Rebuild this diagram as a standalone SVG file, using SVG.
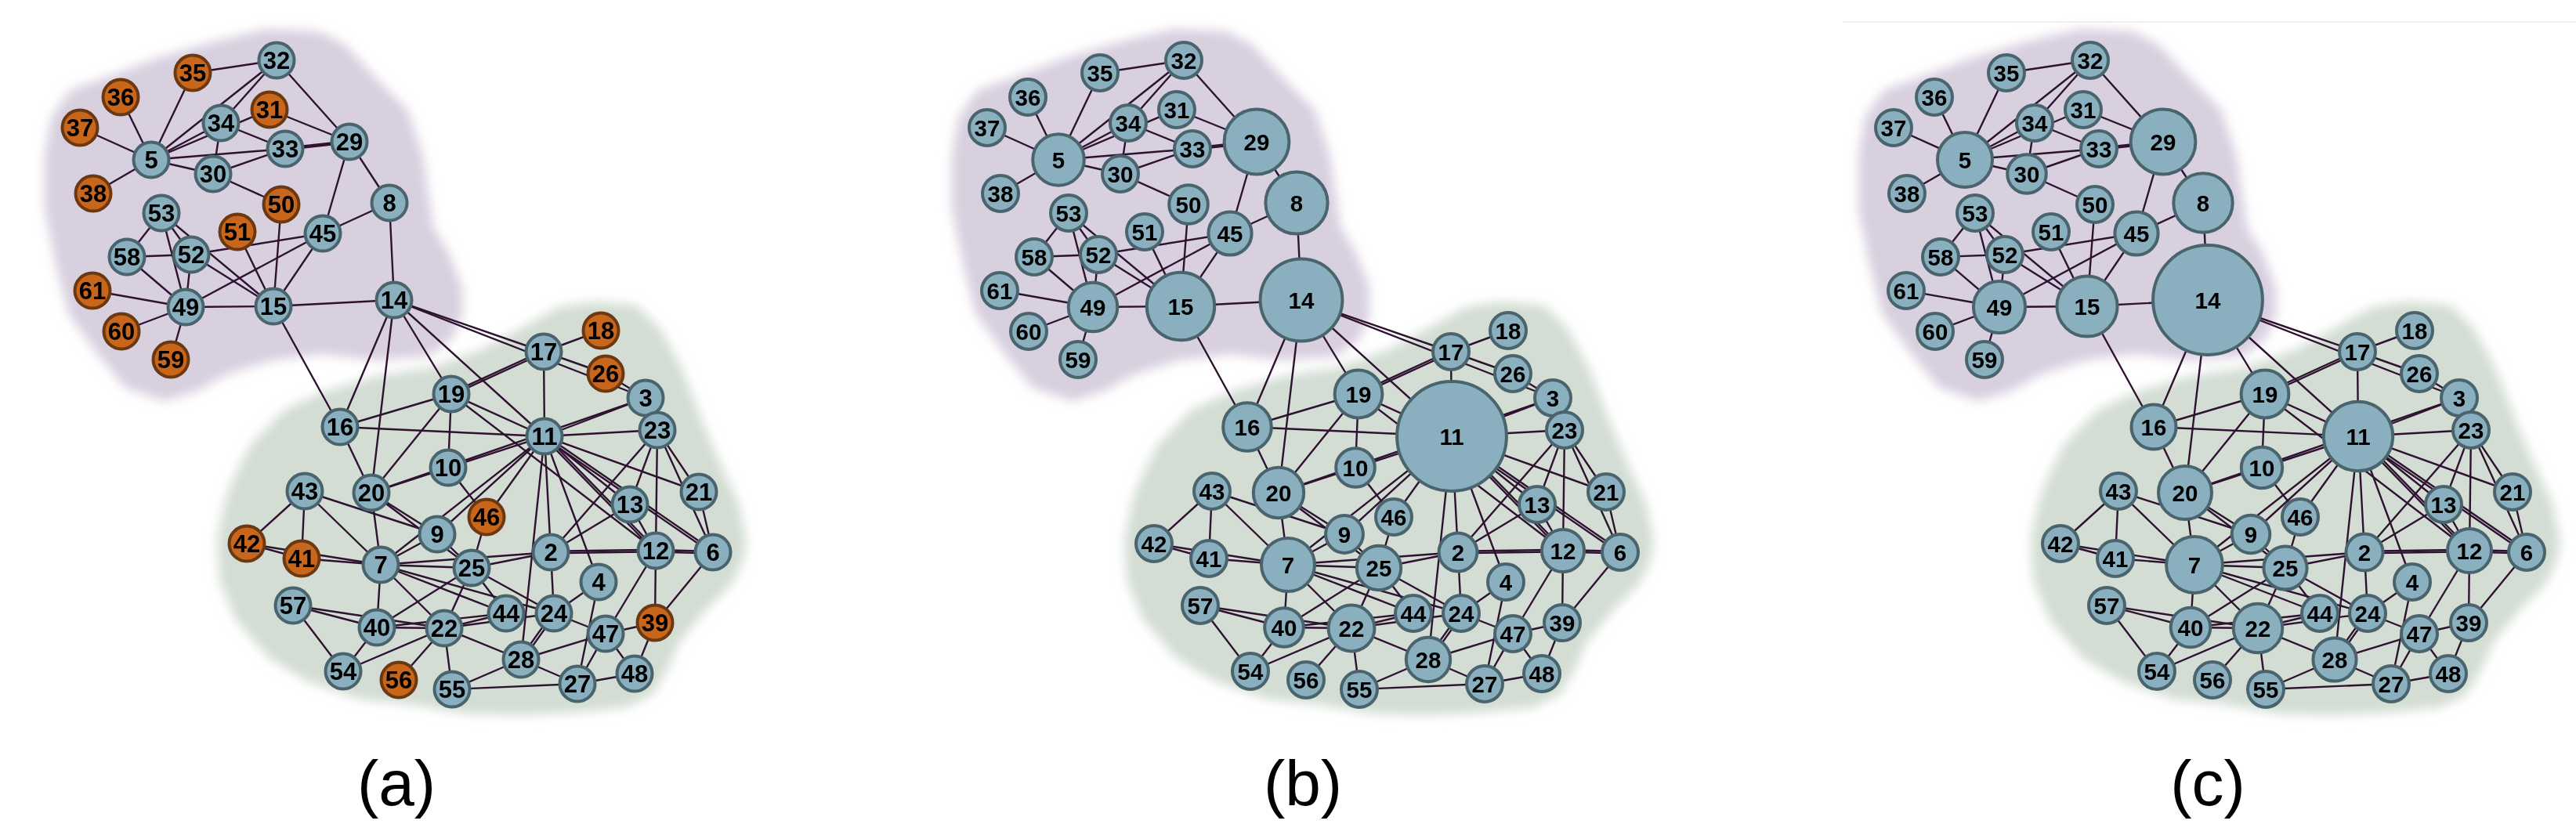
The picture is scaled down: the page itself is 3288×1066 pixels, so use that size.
<svg xmlns="http://www.w3.org/2000/svg" xmlns:xlink="http://www.w3.org/1999/xlink" width="3288" height="1066" viewBox="0 0 3288 1066">
<style>
.e line{stroke:#2e1230;stroke-width:2.4;stroke-linecap:round}
.nb{fill:#8ab0c0;stroke:#4a646e;stroke-width:4}
.no{fill:#c8661c;stroke:#6b3812;stroke-width:4}
.t{font-family:"Liberation Sans",Arial,sans-serif;font-weight:bold;font-size:31px;text-anchor:middle;fill:#000}
.pb .t,.pc .t{font-size:29.5px}
.lab{font-family:"Liberation Sans",Arial,sans-serif;font-size:82px;text-anchor:middle;fill:#000}
.bp{fill:#d8cfdf}
.bg{fill:#d3ddd3}
</style>
<defs>
<filter id="soft" x="-10%" y="-10%" width="120%" height="120%"><feGaussianBlur stdDeviation="7"/></filter>
<path id="blobP" d="M57,200 L65,150 L90,115 L140,97 L207,72 L273,53 L340,37 L407,40 L440,57 L490,110 L520,140 L540,200 L553,290 L573,323 L590,367 L590,403 L577,433 L547,455 L480,460 L413,452 L347,460 L290,478 L250,500 L210,512 L160,495 L123,450 L87,400 L70,333 L57,267 Z"/>
<path id="blobG" d="M287,640 L297,613 L320,567 L363,523 L413,500 L480,480 L547,470 L613,447 L663,420 L713,392 L760,385 L813,390 L843,420 L870,470 L900,547 L920,593 L943,643 L953,693 L947,720 L933,747 L900,780 L867,820 L853,853 L833,887 L800,903 L733,910 L667,913 L600,912 L527,900 L460,893 L393,870 L343,840 L300,790 L280,740 L277,690 Z"/>
</defs>
<rect width="3288" height="1066" fill="#fff"/>
<line x1="2352" y1="28" x2="3288" y2="28" stroke="#ececec" stroke-width="1.5"/>
<g id="blobs" filter="url(#soft)">
<use xlink:href="#blobP" class="bp"/><use xlink:href="#blobG" class="bg"/>
<use xlink:href="#blobP" class="bp" x="1158"/><use xlink:href="#blobG" class="bg" x="1158"/>
<use xlink:href="#blobP" class="bp" x="2315"/><use xlink:href="#blobG" class="bg" x="2315"/>
</g>
<g id="connectors-a" class="e">
<line x1="246" y1="93" x2="353" y2="77"/><line x1="246" y1="93" x2="193" y2="204"/><line x1="154" y1="124" x2="193" y2="204"/><line x1="102" y1="163" x2="193" y2="204"/><line x1="119" y1="247" x2="193" y2="204"/>
<line x1="193" y1="204" x2="353" y2="77"/><line x1="193" y1="204" x2="282" y2="157"/><line x1="193" y1="204" x2="344" y2="140"/><line x1="193" y1="204" x2="364" y2="190"/><line x1="193" y1="204" x2="272" y2="222"/>
<line x1="353" y1="77" x2="282" y2="157"/><line x1="353" y1="77" x2="446" y2="181"/><line x1="344" y1="140" x2="446" y2="181"/><line x1="282" y1="157" x2="364" y2="190"/><line x1="282" y1="157" x2="272" y2="222"/><line x1="272" y1="222" x2="364" y2="190"/>
<line x1="364" y1="189" x2="446" y2="180"/><line x1="364" y1="191" x2="446" y2="182"/>
<line x1="272" y1="222" x2="359" y2="261"/><line x1="446" y1="181" x2="412" y2="298"/><line x1="446" y1="181" x2="497" y2="259"/><line x1="497" y1="259" x2="412" y2="298"/><line x1="497" y1="259" x2="503" y2="383"/>
<line x1="206" y1="272" x2="162" y2="328"/><line x1="206" y1="272" x2="244" y2="325"/><line x1="206" y1="272" x2="349" y2="391"/><line x1="206" y1="272" x2="237" y2="392"/>
<line x1="162" y1="328" x2="244" y2="325"/><line x1="162" y1="328" x2="237" y2="392"/><line x1="244" y1="325" x2="237" y2="392"/><line x1="244" y1="325" x2="412" y2="298"/><line x1="244" y1="325" x2="349" y2="391"/>
<line x1="303" y1="296" x2="349" y2="391"/><line x1="359" y1="261" x2="349" y2="391"/><line x1="412" y1="298" x2="349" y2="391"/><line x1="412" y1="298" x2="237" y2="392"/>
<line x1="118" y1="371" x2="237" y2="392"/><line x1="155" y1="423" x2="237" y2="392"/><line x1="218" y1="459" x2="237" y2="392"/><line x1="237" y1="392" x2="349" y2="391"/><line x1="349" y1="391" x2="503" y2="383"/><line x1="349" y1="391" x2="434" y2="545"/>
<line x1="503" y1="383" x2="434" y2="545"/><line x1="503" y1="383" x2="474" y2="629"/><line x1="503" y1="383" x2="576" y2="503"/><line x1="503" y1="383" x2="695" y2="557"/><line x1="503" y1="383" x2="694" y2="449"/><line x1="503" y1="383" x2="824" y2="508"/>
<line x1="694" y1="449" x2="773" y2="477"/><line x1="773" y1="477" x2="824" y2="508"/><line x1="694" y1="449" x2="767" y2="422"/>
<line x1="694" y1="447.5" x2="576" y2="501.5"/><line x1="694" y1="450.5" x2="576" y2="504.5"/>
<line x1="694" y1="449" x2="695" y2="557"/>
<line x1="576" y1="503" x2="434" y2="545"/><line x1="576" y1="503" x2="695" y2="557"/><line x1="576" y1="503" x2="837" y2="703"/><line x1="576" y1="503" x2="474" y2="629"/><line x1="576" y1="503" x2="572" y2="597"/>
<line x1="434" y1="545" x2="695" y2="557"/><line x1="434" y1="545" x2="474" y2="629"/>
<line x1="474" y1="629" x2="572" y2="597"/><line x1="572" y1="597" x2="695" y2="557"/><line x1="695" y1="557" x2="824" y2="508"/><line x1="474" y1="629" x2="824" y2="508"/>
<line x1="572" y1="597" x2="621" y2="660"/><line x1="474" y1="629" x2="486" y2="721"/><line x1="474" y1="629" x2="558" y2="682"/><line x1="474" y1="629" x2="602" y2="725"/>
<line x1="389" y1="627" x2="315" y2="694"/><line x1="389" y1="627" x2="385" y2="713"/><line x1="389" y1="627" x2="486" y2="721"/><line x1="389" y1="627" x2="558" y2="682"/>
<line x1="315" y1="694" x2="385" y2="713"/><line x1="315" y1="694" x2="486" y2="721"/><line x1="385" y1="713" x2="486" y2="721"/>
<line x1="486" y1="721" x2="558" y2="682"/><line x1="486" y1="721" x2="695" y2="557"/><line x1="558" y1="682" x2="695" y2="557"/>
<line x1="621" y1="660" x2="695" y2="557"/><line x1="621" y1="660" x2="602" y2="725"/><line x1="558" y1="682" x2="602" y2="725"/>
<line x1="695" y1="557" x2="703" y2="705"/><line x1="695" y1="557" x2="665" y2="842"/><line x1="695" y1="557" x2="764" y2="743"/><line x1="695" y1="557" x2="839" y2="549"/><line x1="695" y1="557" x2="892" y2="628"/><line x1="695" y1="557" x2="804" y2="644"/>
<line x1="693" y1="557" x2="835" y2="703"/><line x1="697" y1="557" x2="839" y2="703"/>
<line x1="695" y1="555" x2="910" y2="703"/><line x1="695" y1="559" x2="910" y2="707"/>
<line x1="824" y1="508" x2="839" y2="549"/><line x1="839" y1="549" x2="804" y2="644"/><line x1="839" y1="549" x2="837" y2="703"/><line x1="839" y1="549" x2="892" y2="628"/><line x1="839" y1="549" x2="910" y2="705"/><line x1="892" y1="628" x2="910" y2="705"/>
<line x1="839" y1="549" x2="703" y2="705"/><line x1="804" y1="644" x2="837" y2="703"/><line x1="804" y1="644" x2="703" y2="705"/>
<line x1="837" y1="702" x2="910" y2="704"/><line x1="837" y1="704.5" x2="910" y2="706.5"/>
<line x1="703" y1="703.8" x2="837" y2="701.8"/><line x1="703" y1="706.2" x2="837" y2="704.2"/>
<line x1="703" y1="705" x2="707" y2="783"/><line x1="703" y1="705" x2="602" y2="725"/>
<line x1="486" y1="721" x2="703" y2="705"/><line x1="486" y1="721" x2="602" y2="725"/><line x1="486" y1="721" x2="707" y2="783"/><line x1="486" y1="721" x2="646" y2="783"/><line x1="486" y1="721" x2="567" y2="802"/><line x1="486" y1="721" x2="481" y2="801"/>
<line x1="602" y1="725" x2="567" y2="802"/><line x1="602" y1="725" x2="646" y2="783"/><line x1="602" y1="725" x2="707" y2="783"/><line x1="602" y1="725" x2="481" y2="801"/>
<line x1="374" y1="773" x2="481" y2="801"/><line x1="374" y1="773" x2="567" y2="802"/><line x1="481" y1="801" x2="567" y2="802"/><line x1="481" y1="801" x2="646" y2="783"/><line x1="567" y1="802" x2="646" y2="783"/><line x1="567" y1="802" x2="707" y2="783"/>
<line x1="567" y1="802" x2="665" y2="842"/><line x1="567" y1="802" x2="438" y2="857"/><line x1="567" y1="802" x2="509" y2="868"/><line x1="567" y1="802" x2="577" y2="880"/><line x1="481" y1="801" x2="438" y2="857"/><line x1="374" y1="773" x2="438" y2="857"/>
<line x1="707" y1="783" x2="764" y2="743"/><line x1="707" y1="783" x2="773" y2="809"/>
<line x1="705" y1="783" x2="663" y2="842"/><line x1="709.5" y1="783" x2="667.5" y2="842"/>
<line x1="665" y1="842" x2="773" y2="809"/><line x1="764" y1="743" x2="737" y2="873"/><line x1="773" y1="809" x2="737" y2="873"/><line x1="773" y1="809" x2="810" y2="860"/><line x1="773" y1="809" x2="836" y2="795"/><line x1="773" y1="809" x2="837" y2="703"/>
<line x1="837" y1="703" x2="836" y2="795"/><line x1="910" y1="705" x2="836" y2="795"/><line x1="836" y1="795" x2="810" y2="860"/><line x1="737" y1="873" x2="810" y2="860"/><line x1="665" y1="842" x2="737" y2="873"/><line x1="577" y1="880" x2="737" y2="873"/><line x1="665" y1="842" x2="577" y2="880"/>
</g>
<g id="nodes-a" class="pa">
<g id="a2"><circle class="nb" cx="703" cy="705" r="22.5"/><text class="t" x="703" y="716">2</text></g>
<g id="a3"><circle class="nb" cx="824" cy="508" r="22.5"/><text class="t" x="824" y="519">3</text></g>
<g id="a4"><circle class="nb" cx="764" cy="743" r="22.5"/><text class="t" x="764" y="754">4</text></g>
<g id="a5"><circle class="nb" cx="193" cy="204" r="22.5"/><text class="t" x="193" y="215">5</text></g>
<g id="a6"><circle class="nb" cx="910" cy="705" r="22.5"/><text class="t" x="910" y="716">6</text></g>
<g id="a7"><circle class="nb" cx="486" cy="721" r="22.5"/><text class="t" x="486" y="732">7</text></g>
<g id="a8"><circle class="nb" cx="497" cy="259" r="22.5"/><text class="t" x="497" y="270">8</text></g>
<g id="a9"><circle class="nb" cx="558" cy="682" r="22.5"/><text class="t" x="558" y="693">9</text></g>
<g id="a10"><circle class="nb" cx="572" cy="597" r="22.5"/><text class="t" x="572" y="608">10</text></g>
<g id="a11"><circle class="nb" cx="695" cy="557" r="22.5"/><text class="t" x="695" y="568">11</text></g>
<g id="a12"><circle class="nb" cx="837" cy="703" r="22.5"/><text class="t" x="837" y="714">12</text></g>
<g id="a13"><circle class="nb" cx="804" cy="644" r="22.5"/><text class="t" x="804" y="655">13</text></g>
<g id="a14"><circle class="nb" cx="503" cy="383" r="22.5"/><text class="t" x="503" y="394">14</text></g>
<g id="a15"><circle class="nb" cx="349" cy="391" r="22.5"/><text class="t" x="349" y="402">15</text></g>
<g id="a16"><circle class="nb" cx="434" cy="545" r="22.5"/><text class="t" x="434" y="556">16</text></g>
<g id="a17"><circle class="nb" cx="694" cy="449" r="22.5"/><text class="t" x="694" y="460">17</text></g>
<g id="a18"><circle class="no" cx="767" cy="422" r="22.5"/><text class="t" x="767" y="433">18</text></g>
<g id="a19"><circle class="nb" cx="576" cy="503" r="22.5"/><text class="t" x="576" y="514">19</text></g>
<g id="a20"><circle class="nb" cx="474" cy="629" r="22.5"/><text class="t" x="474" y="640">20</text></g>
<g id="a21"><circle class="nb" cx="892" cy="628" r="22.5"/><text class="t" x="892" y="639">21</text></g>
<g id="a22"><circle class="nb" cx="567" cy="802" r="22.5"/><text class="t" x="567" y="813">22</text></g>
<g id="a23"><circle class="nb" cx="839" cy="549" r="22.5"/><text class="t" x="839" y="560">23</text></g>
<g id="a24"><circle class="nb" cx="707" cy="783" r="22.5"/><text class="t" x="707" y="794">24</text></g>
<g id="a25"><circle class="nb" cx="602" cy="725" r="22.5"/><text class="t" x="602" y="736">25</text></g>
<g id="a26"><circle class="no" cx="773" cy="477" r="22.5"/><text class="t" x="773" y="488">26</text></g>
<g id="a27"><circle class="nb" cx="737" cy="873" r="22.5"/><text class="t" x="737" y="884">27</text></g>
<g id="a28"><circle class="nb" cx="665" cy="842" r="22.5"/><text class="t" x="665" y="853">28</text></g>
<g id="a29"><circle class="nb" cx="446" cy="181" r="22.5"/><text class="t" x="446" y="192">29</text></g>
<g id="a30"><circle class="nb" cx="272" cy="222" r="22.5"/><text class="t" x="272" y="233">30</text></g>
<g id="a31"><circle class="no" cx="344" cy="140" r="22.5"/><text class="t" x="344" y="151">31</text></g>
<g id="a32"><circle class="nb" cx="353" cy="77" r="22.5"/><text class="t" x="353" y="88">32</text></g>
<g id="a33"><circle class="nb" cx="364" cy="190" r="22.5"/><text class="t" x="364" y="201">33</text></g>
<g id="a34"><circle class="nb" cx="282" cy="157" r="22.5"/><text class="t" x="282" y="168">34</text></g>
<g id="a35"><circle class="no" cx="246" cy="93" r="22.5"/><text class="t" x="246" y="104">35</text></g>
<g id="a36"><circle class="no" cx="154" cy="124" r="22.5"/><text class="t" x="154" y="135">36</text></g>
<g id="a37"><circle class="no" cx="102" cy="163" r="22.5"/><text class="t" x="102" y="174">37</text></g>
<g id="a38"><circle class="no" cx="119" cy="247" r="22.5"/><text class="t" x="119" y="258">38</text></g>
<g id="a39"><circle class="no" cx="836" cy="795" r="22.5"/><text class="t" x="836" y="806">39</text></g>
<g id="a40"><circle class="nb" cx="481" cy="801" r="22.5"/><text class="t" x="481" y="812">40</text></g>
<g id="a41"><circle class="no" cx="385" cy="713" r="22.5"/><text class="t" x="385" y="724">41</text></g>
<g id="a42"><circle class="no" cx="315" cy="694" r="22.5"/><text class="t" x="315" y="705">42</text></g>
<g id="a43"><circle class="nb" cx="389" cy="627" r="22.5"/><text class="t" x="389" y="638">43</text></g>
<g id="a44"><circle class="nb" cx="646" cy="783" r="22.5"/><text class="t" x="646" y="794">44</text></g>
<g id="a45"><circle class="nb" cx="412" cy="298" r="22.5"/><text class="t" x="412" y="309">45</text></g>
<g id="a46"><circle class="no" cx="621" cy="660" r="22.5"/><text class="t" x="621" y="671">46</text></g>
<g id="a47"><circle class="nb" cx="773" cy="809" r="22.5"/><text class="t" x="773" y="820">47</text></g>
<g id="a48"><circle class="nb" cx="810" cy="860" r="22.5"/><text class="t" x="810" y="871">48</text></g>
<g id="a49"><circle class="nb" cx="237" cy="392" r="22.5"/><text class="t" x="237" y="403">49</text></g>
<g id="a50"><circle class="no" cx="359" cy="261" r="22.5"/><text class="t" x="359" y="272">50</text></g>
<g id="a51"><circle class="no" cx="303" cy="296" r="22.5"/><text class="t" x="303" y="307">51</text></g>
<g id="a52"><circle class="nb" cx="244" cy="325" r="22.5"/><text class="t" x="244" y="336">52</text></g>
<g id="a53"><circle class="nb" cx="206" cy="272" r="22.5"/><text class="t" x="206" y="283">53</text></g>
<g id="a54"><circle class="nb" cx="438" cy="857" r="22.5"/><text class="t" x="438" y="868">54</text></g>
<g id="a55"><circle class="nb" cx="577" cy="880" r="22.5"/><text class="t" x="577" y="891">55</text></g>
<g id="a56"><circle class="no" cx="509" cy="868" r="22.5"/><text class="t" x="509" y="879">56</text></g>
<g id="a57"><circle class="nb" cx="374" cy="773" r="22.5"/><text class="t" x="374" y="784">57</text></g>
<g id="a58"><circle class="nb" cx="162" cy="328" r="22.5"/><text class="t" x="162" y="339">58</text></g>
<g id="a59"><circle class="no" cx="218" cy="459" r="22.5"/><text class="t" x="218" y="470">59</text></g>
<g id="a60"><circle class="no" cx="155" cy="423" r="22.5"/><text class="t" x="155" y="434">60</text></g>
<g id="a61"><circle class="no" cx="118" cy="371" r="22.5"/><text class="t" x="118" y="382">61</text></g>
</g>
<g id="connectors-b"><use xlink:href="#connectors-a" x="1158"/></g>
<g id="nodes-b" class="pb">
<g id="b2"><circle class="nb" cx="1861" cy="705" r="24.4" stroke-width="4.2"/><text class="t" x="1861" y="715.5">2</text></g>
<g id="b3"><circle class="nb" cx="1982" cy="508" r="23"/><text class="t" x="1982" y="518.5">3</text></g>
<g id="b4"><circle class="nb" cx="1922" cy="743" r="23"/><text class="t" x="1922" y="753.5">4</text></g>
<g id="b5"><circle class="nb" cx="1351" cy="204" r="32.8" stroke-width="5.7"/><text class="t" x="1351" y="214.5">5</text></g>
<g id="b6"><circle class="nb" cx="2068" cy="705" r="23"/><text class="t" x="2068" y="715.5">6</text></g>
<g id="b7"><circle class="nb" cx="1644" cy="721" r="34" stroke-width="5.9"/><text class="t" x="1644" y="731.5">7</text></g>
<g id="b8"><circle class="nb" cx="1655" cy="259" r="39.6" stroke-width="6.9"/><text class="t" x="1655" y="269.5">8</text></g>
<g id="b9"><circle class="nb" cx="1716" cy="682" r="23.9" stroke-width="4.2"/><text class="t" x="1716" y="692.5">9</text></g>
<g id="b10"><circle class="nb" cx="1730" cy="597" r="24.8" stroke-width="4.3"/><text class="t" x="1730" y="607.5">10</text></g>
<g id="b12"><circle class="nb" cx="1995" cy="703" r="27.1" stroke-width="4.7"/><text class="t" x="1995" y="713.5">12</text></g>
<g id="b13"><circle class="nb" cx="1962" cy="644" r="23"/><text class="t" x="1962" y="654.5">13</text></g>
<g id="b14"><circle class="nb" cx="1661" cy="383" r="52.4" stroke-width="9.1"/><text class="t" x="1661" y="393.5">14</text></g>
<g id="b15"><circle class="nb" cx="1507" cy="391" r="43.2" stroke-width="7.5"/><text class="t" x="1507" y="401.5">15</text></g>
<g id="b16"><circle class="nb" cx="1592" cy="545" r="30.8" stroke-width="5.4"/><text class="t" x="1592" y="555.5">16</text></g>
<g id="b17"><circle class="nb" cx="1852" cy="449" r="23"/><text class="t" x="1852" y="459.5">17</text></g>
<g id="b18"><circle class="nb" cx="1925" cy="422" r="23"/><text class="t" x="1925" y="432.5">18</text></g>
<g id="b19"><circle class="nb" cx="1734" cy="503" r="30.4" stroke-width="5.3"/><text class="t" x="1734" y="513.5">19</text></g>
<g id="b20"><circle class="nb" cx="1632" cy="629" r="32.2" stroke-width="5.6"/><text class="t" x="1632" y="639.5">20</text></g>
<g id="b21"><circle class="nb" cx="2050" cy="628" r="23"/><text class="t" x="2050" y="638.5">21</text></g>
<g id="b22"><circle class="nb" cx="1725" cy="802" r="29.4" stroke-width="5.1"/><text class="t" x="1725" y="812.5">22</text></g>
<g id="b23"><circle class="nb" cx="1997" cy="549" r="23"/><text class="t" x="1997" y="559.5">23</text></g>
<g id="b24"><circle class="nb" cx="1865" cy="783" r="23"/><text class="t" x="1865" y="793.5">24</text></g>
<g id="b25"><circle class="nb" cx="1760" cy="725" r="28.2" stroke-width="4.9"/><text class="t" x="1760" y="735.5">25</text></g>
<g id="b26"><circle class="nb" cx="1931" cy="477" r="23"/><text class="t" x="1931" y="487.5">26</text></g>
<g id="b27"><circle class="nb" cx="1895" cy="873" r="23"/><text class="t" x="1895" y="883.5">27</text></g>
<g id="b28"><circle class="nb" cx="1823" cy="842" r="28.2" stroke-width="4.9"/><text class="t" x="1823" y="852.5">28</text></g>
<g id="b29"><circle class="nb" cx="1604" cy="181" r="41.4" stroke-width="7.2"/><text class="t" x="1604" y="191.5">29</text></g>
<g id="b30"><circle class="nb" cx="1430" cy="222" r="23"/><text class="t" x="1430" y="232.5">30</text></g>
<g id="b31"><circle class="nb" cx="1502" cy="140" r="23"/><text class="t" x="1502" y="150.5">31</text></g>
<g id="b32"><circle class="nb" cx="1511" cy="77" r="23"/><text class="t" x="1511" y="87.5">32</text></g>
<g id="b33"><circle class="nb" cx="1522" cy="190" r="23"/><text class="t" x="1522" y="200.5">33</text></g>
<g id="b34"><circle class="nb" cx="1440" cy="157" r="23"/><text class="t" x="1440" y="167.5">34</text></g>
<g id="b35"><circle class="nb" cx="1404" cy="93" r="23"/><text class="t" x="1404" y="103.5">35</text></g>
<g id="b36"><circle class="nb" cx="1312" cy="124" r="23"/><text class="t" x="1312" y="134.5">36</text></g>
<g id="b37"><circle class="nb" cx="1260" cy="163" r="23"/><text class="t" x="1260" y="173.5">37</text></g>
<g id="b38"><circle class="nb" cx="1277" cy="247" r="23"/><text class="t" x="1277" y="257.5">38</text></g>
<g id="b39"><circle class="nb" cx="1994" cy="795" r="23"/><text class="t" x="1994" y="805.5">39</text></g>
<g id="b40"><circle class="nb" cx="1639" cy="801" r="24.8" stroke-width="4.3"/><text class="t" x="1639" y="811.5">40</text></g>
<g id="b41"><circle class="nb" cx="1543" cy="713" r="23"/><text class="t" x="1543" y="723.5">41</text></g>
<g id="b42"><circle class="nb" cx="1473" cy="694" r="23"/><text class="t" x="1473" y="704.5">42</text></g>
<g id="b43"><circle class="nb" cx="1547" cy="627" r="23"/><text class="t" x="1547" y="637.5">43</text></g>
<g id="b44"><circle class="nb" cx="1804" cy="783" r="23"/><text class="t" x="1804" y="793.5">44</text></g>
<g id="b45"><circle class="nb" cx="1570" cy="298" r="27.6" stroke-width="4.8"/><text class="t" x="1570" y="308.5">45</text></g>
<g id="b46"><circle class="nb" cx="1779" cy="660" r="23"/><text class="t" x="1779" y="670.5">46</text></g>
<g id="b47"><circle class="nb" cx="1931" cy="809" r="23"/><text class="t" x="1931" y="819.5">47</text></g>
<g id="b48"><circle class="nb" cx="1968" cy="860" r="23"/><text class="t" x="1968" y="870.5">48</text></g>
<g id="b49"><circle class="nb" cx="1395" cy="392" r="31.3" stroke-width="5.4"/><text class="t" x="1395" y="402.5">49</text></g>
<g id="b50"><circle class="nb" cx="1517" cy="261" r="24.8" stroke-width="4.3"/><text class="t" x="1517" y="271.5">50</text></g>
<g id="b51"><circle class="nb" cx="1461" cy="296" r="23"/><text class="t" x="1461" y="306.5">51</text></g>
<g id="b52"><circle class="nb" cx="1402" cy="325" r="23"/><text class="t" x="1402" y="335.5">52</text></g>
<g id="b53"><circle class="nb" cx="1364" cy="272" r="23"/><text class="t" x="1364" y="282.5">53</text></g>
<g id="b54"><circle class="nb" cx="1596" cy="857" r="23"/><text class="t" x="1596" y="867.5">54</text></g>
<g id="b55"><circle class="nb" cx="1735" cy="880" r="23"/><text class="t" x="1735" y="890.5">55</text></g>
<g id="b56"><circle class="nb" cx="1667" cy="868" r="23"/><text class="t" x="1667" y="878.5">56</text></g>
<g id="b57"><circle class="nb" cx="1532" cy="773" r="23"/><text class="t" x="1532" y="783.5">57</text></g>
<g id="b58"><circle class="nb" cx="1320" cy="328" r="23"/><text class="t" x="1320" y="338.5">58</text></g>
<g id="b59"><circle class="nb" cx="1376" cy="459" r="23"/><text class="t" x="1376" y="469.5">59</text></g>
<g id="b60"><circle class="nb" cx="1313" cy="423" r="23"/><text class="t" x="1313" y="433.5">60</text></g>
<g id="b61"><circle class="nb" cx="1276" cy="371" r="23"/><text class="t" x="1276" y="381.5">61</text></g>
<g id="b11"><circle class="nb" cx="1853" cy="557" r="69.9" stroke-width="12.2"/><text class="t" x="1853" y="567.5">11</text></g>
</g>
<g id="connectors-c"><use xlink:href="#connectors-a" x="2315"/></g>
<g id="nodes-c" class="pc">
<g id="c2"><circle class="nb" cx="3018" cy="705" r="23.5" stroke-width="4.1"/><text class="t" x="3018" y="715.5">2</text></g>
<g id="c3"><circle class="nb" cx="3139" cy="508" r="23"/><text class="t" x="3139" y="518.5">3</text></g>
<g id="c4"><circle class="nb" cx="3079" cy="743" r="23"/><text class="t" x="3079" y="753.5">4</text></g>
<g id="c5"><circle class="nb" cx="2508" cy="204" r="35" stroke-width="6.1"/><text class="t" x="2508" y="214.5">5</text></g>
<g id="c6"><circle class="nb" cx="3225" cy="705" r="23"/><text class="t" x="3225" y="715.5">6</text></g>
<g id="c7"><circle class="nb" cx="2801" cy="721" r="35.9" stroke-width="6.2"/><text class="t" x="2801" y="731.5">7</text></g>
<g id="c8"><circle class="nb" cx="2812" cy="259" r="37.7" stroke-width="6.6"/><text class="t" x="2812" y="269.5">8</text></g>
<g id="c9"><circle class="nb" cx="2873" cy="682" r="24.3" stroke-width="4.2"/><text class="t" x="2873" y="692.5">9</text></g>
<g id="c10"><circle class="nb" cx="2887" cy="597" r="26.2" stroke-width="4.6"/><text class="t" x="2887" y="607.5">10</text></g>
<g id="c11"><circle class="nb" cx="3010" cy="557" r="44.2" stroke-width="7.7"/><text class="t" x="3010" y="567.5">11</text></g>
<g id="c12"><circle class="nb" cx="3152" cy="703" r="28" stroke-width="4.9"/><text class="t" x="3152" y="713.5">12</text></g>
<g id="c13"><circle class="nb" cx="3119" cy="644" r="23"/><text class="t" x="3119" y="654.5">13</text></g>
<g id="c15"><circle class="nb" cx="2664" cy="391" r="38.6" stroke-width="6.7"/><text class="t" x="2664" y="401.5">15</text></g>
<g id="c16"><circle class="nb" cx="2749" cy="545" r="28.5" stroke-width="5"/><text class="t" x="2749" y="555.5">16</text></g>
<g id="c17"><circle class="nb" cx="3009" cy="449" r="23"/><text class="t" x="3009" y="459.5">17</text></g>
<g id="c18"><circle class="nb" cx="3082" cy="422" r="23"/><text class="t" x="3082" y="432.5">18</text></g>
<g id="c19"><circle class="nb" cx="2891" cy="503" r="30.4" stroke-width="5.3"/><text class="t" x="2891" y="513.5">19</text></g>
<g id="c20"><circle class="nb" cx="2789" cy="629" r="34" stroke-width="5.9"/><text class="t" x="2789" y="639.5">20</text></g>
<g id="c21"><circle class="nb" cx="3207" cy="628" r="23"/><text class="t" x="3207" y="638.5">21</text></g>
<g id="c22"><circle class="nb" cx="2882" cy="802" r="31.3" stroke-width="5.4"/><text class="t" x="2882" y="812.5">22</text></g>
<g id="c23"><circle class="nb" cx="3154" cy="549" r="23"/><text class="t" x="3154" y="559.5">23</text></g>
<g id="c24"><circle class="nb" cx="3022" cy="783" r="23"/><text class="t" x="3022" y="793.5">24</text></g>
<g id="c25"><circle class="nb" cx="2917" cy="725" r="27.6" stroke-width="4.8"/><text class="t" x="2917" y="735.5">25</text></g>
<g id="c26"><circle class="nb" cx="3088" cy="477" r="23"/><text class="t" x="3088" y="487.5">26</text></g>
<g id="c27"><circle class="nb" cx="3052" cy="873" r="23"/><text class="t" x="3052" y="883.5">27</text></g>
<g id="c28"><circle class="nb" cx="2980" cy="842" r="27.6" stroke-width="4.8"/><text class="t" x="2980" y="852.5">28</text></g>
<g id="c29"><circle class="nb" cx="2761" cy="181" r="41.4" stroke-width="7.2"/><text class="t" x="2761" y="191.5">29</text></g>
<g id="c30"><circle class="nb" cx="2587" cy="222" r="24.8" stroke-width="4.3"/><text class="t" x="2587" y="232.5">30</text></g>
<g id="c31"><circle class="nb" cx="2659" cy="140" r="23"/><text class="t" x="2659" y="150.5">31</text></g>
<g id="c32"><circle class="nb" cx="2668" cy="77" r="23"/><text class="t" x="2668" y="87.5">32</text></g>
<g id="c33"><circle class="nb" cx="2679" cy="190" r="23"/><text class="t" x="2679" y="200.5">33</text></g>
<g id="c34"><circle class="nb" cx="2597" cy="157" r="23"/><text class="t" x="2597" y="167.5">34</text></g>
<g id="c35"><circle class="nb" cx="2561" cy="93" r="23"/><text class="t" x="2561" y="103.5">35</text></g>
<g id="c36"><circle class="nb" cx="2469" cy="124" r="23"/><text class="t" x="2469" y="134.5">36</text></g>
<g id="c37"><circle class="nb" cx="2417" cy="163" r="23"/><text class="t" x="2417" y="173.5">37</text></g>
<g id="c38"><circle class="nb" cx="2434" cy="247" r="23"/><text class="t" x="2434" y="257.5">38</text></g>
<g id="c39"><circle class="nb" cx="3151" cy="795" r="23"/><text class="t" x="3151" y="805.5">39</text></g>
<g id="c40"><circle class="nb" cx="2796" cy="801" r="25.3" stroke-width="4.4"/><text class="t" x="2796" y="811.5">40</text></g>
<g id="c41"><circle class="nb" cx="2700" cy="713" r="23"/><text class="t" x="2700" y="723.5">41</text></g>
<g id="c42"><circle class="nb" cx="2630" cy="694" r="23"/><text class="t" x="2630" y="704.5">42</text></g>
<g id="c43"><circle class="nb" cx="2704" cy="627" r="23"/><text class="t" x="2704" y="637.5">43</text></g>
<g id="c44"><circle class="nb" cx="2961" cy="783" r="23"/><text class="t" x="2961" y="793.5">44</text></g>
<g id="c45"><circle class="nb" cx="2727" cy="298" r="27.6" stroke-width="4.8"/><text class="t" x="2727" y="308.5">45</text></g>
<g id="c46"><circle class="nb" cx="2936" cy="660" r="23"/><text class="t" x="2936" y="670.5">46</text></g>
<g id="c47"><circle class="nb" cx="3088" cy="809" r="23"/><text class="t" x="3088" y="819.5">47</text></g>
<g id="c48"><circle class="nb" cx="3125" cy="860" r="23"/><text class="t" x="3125" y="870.5">48</text></g>
<g id="c49"><circle class="nb" cx="2552" cy="392" r="33.1" stroke-width="5.8"/><text class="t" x="2552" y="402.5">49</text></g>
<g id="c50"><circle class="nb" cx="2674" cy="261" r="23"/><text class="t" x="2674" y="271.5">50</text></g>
<g id="c51"><circle class="nb" cx="2618" cy="296" r="23"/><text class="t" x="2618" y="306.5">51</text></g>
<g id="c52"><circle class="nb" cx="2559" cy="325" r="23"/><text class="t" x="2559" y="335.5">52</text></g>
<g id="c53"><circle class="nb" cx="2521" cy="272" r="23"/><text class="t" x="2521" y="282.5">53</text></g>
<g id="c54"><circle class="nb" cx="2753" cy="857" r="23"/><text class="t" x="2753" y="867.5">54</text></g>
<g id="c55"><circle class="nb" cx="2892" cy="880" r="23"/><text class="t" x="2892" y="890.5">55</text></g>
<g id="c56"><circle class="nb" cx="2824" cy="868" r="23"/><text class="t" x="2824" y="878.5">56</text></g>
<g id="c57"><circle class="nb" cx="2689" cy="773" r="23"/><text class="t" x="2689" y="783.5">57</text></g>
<g id="c58"><circle class="nb" cx="2477" cy="328" r="23"/><text class="t" x="2477" y="338.5">58</text></g>
<g id="c59"><circle class="nb" cx="2533" cy="459" r="23"/><text class="t" x="2533" y="469.5">59</text></g>
<g id="c60"><circle class="nb" cx="2470" cy="423" r="23"/><text class="t" x="2470" y="433.5">60</text></g>
<g id="c61"><circle class="nb" cx="2433" cy="371" r="23"/><text class="t" x="2433" y="381.5">61</text></g>
<g id="c14"><circle class="nb" cx="2818" cy="383" r="69.9" stroke-width="12.2"/><text class="t" x="2818" y="393.5">14</text></g>
</g>
<g id="captions">
<text class="lab" x="506" y="1028">(a)</text>
<text class="lab" x="1663" y="1028">(b)</text>
<text class="lab" x="2818" y="1028">(c)</text>
</g>
</svg>
